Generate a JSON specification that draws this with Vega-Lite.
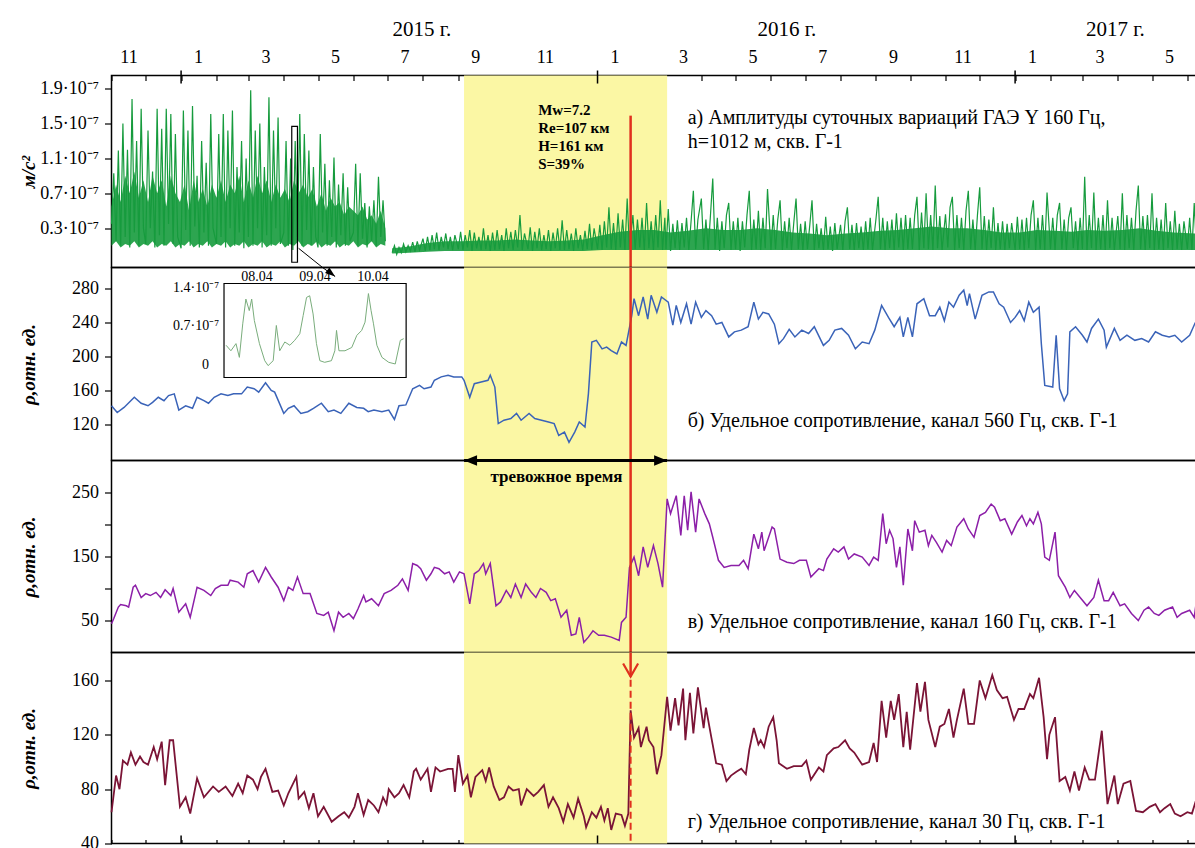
{
"$schema": "https://vega.github.io/schema/vega-lite/v6.json",
"background": "white",
"padding": {"left": 18.5, "top": 17.5, "right": 0, "bottom": 0},
"autosize": {"type": "pad"},
"spacing": 0,
"bounds": "flush",
"resolve": {"scale": {"x": "independent", "y": "independent"}},
"config": {
 "font": "Liberation Serif",
 "view": {"stroke": "black", "strokeWidth": 1.5},
 "axis": {"domain": false, "grid": false, "labelFont": "Liberation Serif", "labelFontSize": 18, "labelColor": "black", "tickColor": "black", "tickWidth": 1.2, "titleFont": "Liberation Serif", "titleFontSize": 19, "titleFontWeight": "bold", "titleFontStyle": "italic", "titleColor": "black", "labelFlush": false, "labelBound": false},
 "axisY": {"tickSize": 7, "labelPadding": 6, "minExtent": 70, "maxExtent": 70, "titlePadding": 3},
 "text": {"font": "Liberation Serif", "color": "black"}
},
"datasets": {
 "alarm": [{"t": "2015-09-06", "t2": "2016-03-02"}],
 "ev": [{"t": "2016-01-30"}],
 "years": [{"t": "2015-01-01"}, {"t": "2016-01-01"}, {"t": "2017-01-01"}],
 "ga1": [
{"t":"2014-11-01","lo":0.1,"hi":0.55},{"t":"2014-11-05","lo":0.15,"hi":0.8},{"t":"2014-11-09","lo":0.08,"hi":0.6},{"t":"2014-11-13","lo":0.12,"hi":0.9},{"t":"2014-11-17","lo":0.1,"hi":0.7},{"t":"2014-11-21","lo":0.15,"hi":0.95},{"t":"2014-11-25","lo":0.08,"hi":0.65},{"t":"2014-11-29","lo":0.12,"hi":0.85},
{"t":"2014-12-03","lo":0.1,"hi":0.6},{"t":"2014-12-07","lo":0.15,"hi":0.9},{"t":"2014-12-11","lo":0.08,"hi":0.7},{"t":"2014-12-15","lo":0.12,"hi":0.85},{"t":"2014-12-19","lo":0.1,"hi":0.55},{"t":"2014-12-23","lo":0.15,"hi":0.9},{"t":"2014-12-27","lo":0.08,"hi":0.7},{"t":"2014-12-31","lo":0.12,"hi":0.6},
{"t":"2015-01-04","lo":0.1,"hi":0.8},{"t":"2015-01-08","lo":0.15,"hi":0.5},{"t":"2015-01-12","lo":0.08,"hi":0.85},{"t":"2015-01-16","lo":0.12,"hi":0.6},{"t":"2015-01-20","lo":0.1,"hi":0.75},{"t":"2015-01-24","lo":0.15,"hi":0.55},{"t":"2015-01-28","lo":0.08,"hi":0.8},
{"t":"2015-02-01","lo":0.12,"hi":0.65},{"t":"2015-02-05","lo":0.1,"hi":0.85},{"t":"2015-02-09","lo":0.15,"hi":0.6},{"t":"2015-02-13","lo":0.08,"hi":0.8},{"t":"2015-02-17","lo":0.12,"hi":0.7},{"t":"2015-02-21","lo":0.1,"hi":0.9},{"t":"2015-02-25","lo":0.15,"hi":0.6},
{"t":"2015-03-01","lo":0.08,"hi":0.85},{"t":"2015-03-05","lo":0.12,"hi":0.65},{"t":"2015-03-09","lo":0.1,"hi":0.9},{"t":"2015-03-13","lo":0.15,"hi":0.7},{"t":"2015-03-17","lo":0.08,"hi":0.85},{"t":"2015-03-21","lo":0.12,"hi":0.6},{"t":"2015-03-25","lo":0.1,"hi":0.8},{"t":"2015-03-29","lo":0.15,"hi":0.65},
{"t":"2015-04-02","lo":0.08,"hi":0.75},{"t":"2015-04-06","lo":0.12,"hi":0.6},{"t":"2015-04-10","lo":0.1,"hi":0.85},{"t":"2015-04-14","lo":0.15,"hi":0.7},{"t":"2015-04-18","lo":0.08,"hi":0.8},{"t":"2015-04-22","lo":0.12,"hi":0.65},{"t":"2015-04-26","lo":0.1,"hi":0.75},{"t":"2015-04-30","lo":0.15,"hi":0.55},
{"t":"2015-05-04","lo":0.08,"hi":0.7},{"t":"2015-05-08","lo":0.12,"hi":0.5},{"t":"2015-05-12","lo":0.1,"hi":0.65},{"t":"2015-05-16","lo":0.15,"hi":0.55},{"t":"2015-05-20","lo":0.08,"hi":0.6},{"t":"2015-05-24","lo":0.12,"hi":0.45},{"t":"2015-05-28","lo":0.1,"hi":0.55},
{"t":"2015-06-01","lo":0.15,"hi":0.5},{"t":"2015-06-05","lo":0.08,"hi":0.45},{"t":"2015-06-09","lo":0.12,"hi":0.55},{"t":"2015-06-13","lo":0.1,"hi":0.4},{"t":"2015-06-17","lo":0.15,"hi":0.45},{"t":"2015-06-21","lo":0.08,"hi":0.35},{"t":"2015-06-25","lo":0.12,"hi":0.5},{"t":"2015-06-29","lo":0.1,"hi":0.3}
 ],
 "ga2": [
{"t":"2015-07-05","lo":0.01,"hi":0.07},{"t":"2015-07-20","lo":0.02,"hi":0.09},{"t":"2015-08-05","lo":0.03,"hi":0.13},{"t":"2015-08-20","lo":0.04,"hi":0.15},{"t":"2015-09-05","lo":0.04,"hi":0.15},{"t":"2015-09-20","lo":0.04,"hi":0.16},{"t":"2015-10-05","lo":0.04,"hi":0.16},{"t":"2015-10-20","lo":0.04,"hi":0.17},{"t":"2015-11-05","lo":0.04,"hi":0.16},{"t":"2015-11-20","lo":0.04,"hi":0.15},{"t":"2015-12-05","lo":0.04,"hi":0.16},{"t":"2015-12-20","lo":0.04,"hi":0.17},{"t":"2016-01-05","lo":0.05,"hi":0.22},{"t":"2016-01-20","lo":0.05,"hi":0.26},{"t":"2016-02-05","lo":0.05,"hi":0.28},{"t":"2016-02-20","lo":0.05,"hi":0.28},{"t":"2016-03-05","lo":0.05,"hi":0.25},{"t":"2016-03-20","lo":0.05,"hi":0.27},{"t":"2016-04-05","lo":0.05,"hi":0.3},{"t":"2016-04-20","lo":0.05,"hi":0.28},{"t":"2016-05-05","lo":0.05,"hi":0.28},{"t":"2016-05-20","lo":0.05,"hi":0.3},{"t":"2016-06-05","lo":0.05,"hi":0.28},{"t":"2016-06-20","lo":0.05,"hi":0.25},{"t":"2016-07-05","lo":0.05,"hi":0.24},{"t":"2016-07-20","lo":0.05,"hi":0.22},{"t":"2016-08-05","lo":0.05,"hi":0.24},{"t":"2016-08-20","lo":0.05,"hi":0.25},{"t":"2016-09-05","lo":0.05,"hi":0.27},{"t":"2016-09-20","lo":0.05,"hi":0.28},{"t":"2016-10-05","lo":0.05,"hi":0.3},{"t":"2016-10-20","lo":0.05,"hi":0.32},{"t":"2016-11-05","lo":0.05,"hi":0.3},{"t":"2016-11-20","lo":0.05,"hi":0.3},{"t":"2016-12-05","lo":0.05,"hi":0.28},{"t":"2016-12-20","lo":0.05,"hi":0.25},{"t":"2017-01-05","lo":0.05,"hi":0.25},{"t":"2017-01-20","lo":0.05,"hi":0.28},{"t":"2017-02-05","lo":0.05,"hi":0.27},{"t":"2017-02-20","lo":0.05,"hi":0.26},{"t":"2017-03-05","lo":0.05,"hi":0.28},{"t":"2017-03-20","lo":0.05,"hi":0.27},{"t":"2017-04-05","lo":0.05,"hi":0.28},{"t":"2017-04-20","lo":0.05,"hi":0.3},{"t":"2017-05-05","lo":0.05,"hi":0.27},{"t":"2017-05-20","lo":0.05,"hi":0.25},{"t":"2017-06-09","lo":0.05,"hi":0.24}
 ],
 "g1": [
{"t":"2014-11-01","v":0.35},{"t":"2014-11-03","v":0.93},{"t":"2014-11-05","v":0.15},{"t":"2014-11-07","v":1.19},{"t":"2014-11-09","v":0.1},{"t":"2014-11-11","v":1.5},{"t":"2014-11-13","v":0.2},{"t":"2014-11-15","v":1.2},{"t":"2014-11-17","v":0.08},{"t":"2014-11-19","v":1.78},{"t":"2014-11-21","v":0.25},{"t":"2014-11-23","v":1.3},{"t":"2014-11-25","v":0.1},{"t":"2014-11-27","v":1.67},{"t":"2014-11-29","v":0.3},
{"t":"2014-12-01","v":0.12},{"t":"2014-12-03","v":1.42},{"t":"2014-12-05","v":0.3},{"t":"2014-12-07","v":0.95},{"t":"2014-12-09","v":0.08},{"t":"2014-12-11","v":1.67},{"t":"2014-12-13","v":0.22},{"t":"2014-12-15","v":1.44},{"t":"2014-12-17","v":0.1},{"t":"2014-12-19","v":1.67},{"t":"2014-12-21","v":0.35},{"t":"2014-12-23","v":1.61},{"t":"2014-12-25","v":0.12},{"t":"2014-12-27","v":1.38},{"t":"2014-12-29","v":0.2},
{"t":"2015-01-01","v":0.07},{"t":"2015-01-03","v":1.65},{"t":"2015-01-05","v":0.28},{"t":"2015-01-07","v":1.42},{"t":"2015-01-09","v":0.1},{"t":"2015-01-11","v":1.7},{"t":"2015-01-13","v":0.32},{"t":"2015-01-15","v":0.9},{"t":"2015-01-17","v":0.08},{"t":"2015-01-19","v":1.3},{"t":"2015-01-21","v":0.25},{"t":"2015-01-23","v":1.05},{"t":"2015-01-25","v":0.1},{"t":"2015-01-27","v":1.61},{"t":"2015-01-29","v":0.3},
{"t":"2015-02-01","v":0.12},{"t":"2015-02-03","v":1.38},{"t":"2015-02-05","v":0.2},{"t":"2015-02-07","v":1.61},{"t":"2015-02-09","v":0.08},{"t":"2015-02-11","v":1.42},{"t":"2015-02-13","v":0.3},{"t":"2015-02-15","v":1.65},{"t":"2015-02-17","v":0.1},{"t":"2015-02-19","v":1.0},{"t":"2015-02-21","v":0.25},{"t":"2015-02-23","v":1.3},{"t":"2015-02-25","v":0.07},{"t":"2015-02-27","v":1.1},
{"t":"2015-03-01","v":0.2},{"t":"2015-03-03","v":1.88},{"t":"2015-03-05","v":0.1},{"t":"2015-03-07","v":1.42},{"t":"2015-03-09","v":0.3},{"t":"2015-03-11","v":1.5},{"t":"2015-03-13","v":0.08},{"t":"2015-03-15","v":1.0},{"t":"2015-03-17","v":0.22},{"t":"2015-03-19","v":1.8},{"t":"2015-03-21","v":0.1},{"t":"2015-03-23","v":1.42},{"t":"2015-03-25","v":0.3},{"t":"2015-03-27","v":1.57},{"t":"2015-03-29","v":0.12},
{"t":"2015-04-01","v":0.25},{"t":"2015-04-03","v":1.3},{"t":"2015-04-05","v":0.1},{"t":"2015-04-07","v":1.1},{"t":"2015-04-09","v":0.05},{"t":"2015-04-11","v":1.3},{"t":"2015-04-13","v":0.2},{"t":"2015-04-15","v":1.61},{"t":"2015-04-17","v":0.1},{"t":"2015-04-19","v":1.38},{"t":"2015-04-21","v":0.28},{"t":"2015-04-23","v":1.19},{"t":"2015-04-25","v":0.1},{"t":"2015-04-27","v":1.0},{"t":"2015-04-29","v":0.2},
{"t":"2015-05-01","v":0.08},{"t":"2015-05-03","v":1.38},{"t":"2015-05-05","v":0.25},{"t":"2015-05-07","v":1.04},{"t":"2015-05-09","v":0.1},{"t":"2015-05-11","v":0.85},{"t":"2015-05-13","v":0.2},{"t":"2015-05-15","v":1.11},{"t":"2015-05-17","v":0.08},{"t":"2015-05-19","v":0.8},{"t":"2015-05-21","v":0.22},{"t":"2015-05-23","v":0.93},{"t":"2015-05-25","v":0.1},{"t":"2015-05-27","v":0.77},{"t":"2015-05-29","v":0.15},
{"t":"2015-06-01","v":0.25},{"t":"2015-06-03","v":1.04},{"t":"2015-06-05","v":0.1},{"t":"2015-06-07","v":0.93},{"t":"2015-06-09","v":0.18},{"t":"2015-06-11","v":0.59},{"t":"2015-06-13","v":0.08},{"t":"2015-06-15","v":0.55},{"t":"2015-06-17","v":0.15},{"t":"2015-06-19","v":0.62},{"t":"2015-06-21","v":0.1},{"t":"2015-06-23","v":0.89},{"t":"2015-06-25","v":0.2},{"t":"2015-06-27","v":0.62},{"t":"2015-06-29","v":0.15}
 ],
 "g2": [
{"t":"2015-07-05","v":0.02},{"t":"2015-07-07","v":0.1},{"t":"2015-07-09","v":0.0},{"t":"2015-07-11","v":0.08},{"t":"2015-07-13","v":0.02},{"t":"2015-07-15","v":0.12},{"t":"2015-07-17","v":0.03},{"t":"2015-07-19","v":0.1},{"t":"2015-07-21","v":0.04},{"t":"2015-07-23","v":0.14},{"t":"2015-07-25","v":0.03},{"t":"2015-07-27","v":0.15},{"t":"2015-07-29","v":0.05},
{"t":"2015-08-01","v":0.18},{"t":"2015-08-03","v":0.04},{"t":"2015-08-05","v":0.2},{"t":"2015-08-07","v":0.05},{"t":"2015-08-09","v":0.22},{"t":"2015-08-11","v":0.06},{"t":"2015-08-13","v":0.25},{"t":"2015-08-15","v":0.05},{"t":"2015-08-17","v":0.2},{"t":"2015-08-19","v":0.08},{"t":"2015-08-21","v":0.24},{"t":"2015-08-23","v":0.06},{"t":"2015-08-25","v":0.2},{"t":"2015-08-27","v":0.05},{"t":"2015-08-29","v":0.22},
{"t":"2015-09-01","v":0.06},{"t":"2015-09-03","v":0.26},{"t":"2015-09-05","v":0.05},{"t":"2015-09-07","v":0.22},{"t":"2015-09-09","v":0.08},{"t":"2015-09-11","v":0.28},{"t":"2015-09-13","v":0.04},{"t":"2015-09-15","v":0.25},{"t":"2015-09-17","v":0.07},{"t":"2015-09-19","v":0.2},{"t":"2015-09-21","v":0.05},{"t":"2015-09-23","v":0.3},{"t":"2015-09-25","v":0.06},{"t":"2015-09-27","v":0.22},{"t":"2015-09-29","v":0.04},
{"t":"2015-10-01","v":0.25},{"t":"2015-10-03","v":0.05},{"t":"2015-10-05","v":0.28},{"t":"2015-10-07","v":0.06},{"t":"2015-10-09","v":0.22},{"t":"2015-10-11","v":0.04},{"t":"2015-10-13","v":0.3},{"t":"2015-10-15","v":0.07},{"t":"2015-10-17","v":0.26},{"t":"2015-10-19","v":0.05},{"t":"2015-10-21","v":0.28},{"t":"2015-10-23","v":0.08},{"t":"2015-10-25","v":0.45},{"t":"2015-10-27","v":0.05},{"t":"2015-10-29","v":0.24},
{"t":"2015-11-01","v":0.06},{"t":"2015-11-03","v":0.31},{"t":"2015-11-05","v":0.04},{"t":"2015-11-07","v":0.26},{"t":"2015-11-09","v":0.07},{"t":"2015-11-11","v":0.3},{"t":"2015-11-13","v":0.05},{"t":"2015-11-15","v":0.22},{"t":"2015-11-17","v":0.06},{"t":"2015-11-19","v":0.28},{"t":"2015-11-21","v":0.04},{"t":"2015-11-23","v":0.25},{"t":"2015-11-25","v":0.07},{"t":"2015-11-27","v":0.3},{"t":"2015-11-29","v":0.05},
{"t":"2015-12-01","v":0.39},{"t":"2015-12-03","v":0.05},{"t":"2015-12-05","v":0.28},{"t":"2015-12-07","v":0.06},{"t":"2015-12-09","v":0.24},{"t":"2015-12-11","v":0.04},{"t":"2015-12-13","v":0.3},{"t":"2015-12-15","v":0.07},{"t":"2015-12-17","v":0.22},{"t":"2015-12-19","v":0.05},{"t":"2015-12-21","v":0.27},{"t":"2015-12-23","v":0.06},{"t":"2015-12-25","v":0.35},{"t":"2015-12-27","v":0.05},{"t":"2015-12-29","v":0.3},
{"t":"2016-01-01","v":0.06},{"t":"2016-01-03","v":0.34},{"t":"2016-01-05","v":0.05},{"t":"2016-01-07","v":0.38},{"t":"2016-01-09","v":0.08},{"t":"2016-01-11","v":0.54},{"t":"2016-01-13","v":0.06},{"t":"2016-01-15","v":0.36},{"t":"2016-01-17","v":0.05},{"t":"2016-01-19","v":0.47},{"t":"2016-01-21","v":0.08},{"t":"2016-01-23","v":0.4},{"t":"2016-01-25","v":0.05},{"t":"2016-01-27","v":0.64},{"t":"2016-01-29","v":0.06},
{"t":"2016-02-01","v":0.45},{"t":"2016-02-03","v":0.06},{"t":"2016-02-05","v":0.4},{"t":"2016-02-07","v":0.08},{"t":"2016-02-09","v":0.42},{"t":"2016-02-11","v":0.05},{"t":"2016-02-13","v":0.59},{"t":"2016-02-15","v":0.07},{"t":"2016-02-17","v":0.38},{"t":"2016-02-19","v":0.05},{"t":"2016-02-21","v":0.45},{"t":"2016-02-23","v":0.08},{"t":"2016-02-25","v":0.62},{"t":"2016-02-27","v":0.05},{"t":"2016-02-29","v":0.42},
{"t":"2016-03-01","v":0.06},{"t":"2016-03-03","v":0.52},{"t":"2016-03-05","v":0.04},{"t":"2016-03-07","v":0.35},{"t":"2016-03-09","v":0.07},{"t":"2016-03-11","v":0.39},{"t":"2016-03-13","v":0.05},{"t":"2016-03-15","v":0.36},{"t":"2016-03-17","v":0.08},{"t":"2016-03-19","v":0.42},{"t":"2016-03-21","v":0.05},{"t":"2016-03-23","v":0.38},{"t":"2016-03-25","v":0.73},{"t":"2016-03-27","v":0.06},{"t":"2016-03-29","v":0.4},
{"t":"2016-04-01","v":0.64},{"t":"2016-04-03","v":0.06},{"t":"2016-04-05","v":0.4},{"t":"2016-04-07","v":0.05},{"t":"2016-04-09","v":0.45},{"t":"2016-04-11","v":0.87},{"t":"2016-04-13","v":0.06},{"t":"2016-04-15","v":0.42},{"t":"2016-04-17","v":0.04},{"t":"2016-04-19","v":0.38},{"t":"2016-04-21","v":0.07},{"t":"2016-04-23","v":0.45},{"t":"2016-04-25","v":0.59},{"t":"2016-04-27","v":0.05},{"t":"2016-04-29","v":0.38},
{"t":"2016-05-01","v":0.06},{"t":"2016-05-03","v":0.42},{"t":"2016-05-05","v":0.04},{"t":"2016-05-07","v":0.38},{"t":"2016-05-09","v":0.08},{"t":"2016-05-11","v":0.45},{"t":"2016-05-13","v":0.73},{"t":"2016-05-15","v":0.05},{"t":"2016-05-17","v":0.4},{"t":"2016-05-19","v":0.06},{"t":"2016-05-21","v":0.5},{"t":"2016-05-23","v":0.05},{"t":"2016-05-25","v":0.42},{"t":"2016-05-27","v":0.07},{"t":"2016-05-29","v":0.75},
{"t":"2016-06-01","v":0.05},{"t":"2016-06-03","v":0.45},{"t":"2016-06-05","v":0.06},{"t":"2016-06-07","v":0.4},{"t":"2016-06-09","v":0.62},{"t":"2016-06-11","v":0.05},{"t":"2016-06-13","v":0.38},{"t":"2016-06-15","v":0.07},{"t":"2016-06-17","v":0.42},{"t":"2016-06-19","v":0.05},{"t":"2016-06-21","v":0.36},{"t":"2016-06-23","v":0.64},{"t":"2016-06-25","v":0.06},{"t":"2016-06-27","v":0.35},{"t":"2016-06-29","v":0.05},
{"t":"2016-07-01","v":0.38},{"t":"2016-07-03","v":0.06},{"t":"2016-07-05","v":0.33},{"t":"2016-07-07","v":0.62},{"t":"2016-07-09","v":0.05},{"t":"2016-07-11","v":0.35},{"t":"2016-07-13","v":0.07},{"t":"2016-07-15","v":0.3},{"t":"2016-07-17","v":0.05},{"t":"2016-07-19","v":0.43},{"t":"2016-07-21","v":0.06},{"t":"2016-07-23","v":0.32},{"t":"2016-07-25","v":0.04},{"t":"2016-07-27","v":0.36},{"t":"2016-07-29","v":0.06},
{"t":"2016-08-01","v":0.34},{"t":"2016-08-03","v":0.05},{"t":"2016-08-05","v":0.38},{"t":"2016-08-07","v":0.54},{"t":"2016-08-09","v":0.06},{"t":"2016-08-11","v":0.34},{"t":"2016-08-13","v":0.05},{"t":"2016-08-15","v":0.36},{"t":"2016-08-17","v":0.07},{"t":"2016-08-19","v":0.32},{"t":"2016-08-21","v":0.05},{"t":"2016-08-23","v":0.38},{"t":"2016-08-25","v":0.06},{"t":"2016-08-27","v":0.42},{"t":"2016-08-29","v":0.05},
{"t":"2016-09-01","v":0.4},{"t":"2016-09-03","v":0.66},{"t":"2016-09-05","v":0.06},{"t":"2016-09-07","v":0.42},{"t":"2016-09-09","v":0.05},{"t":"2016-09-11","v":0.38},{"t":"2016-09-13","v":0.07},{"t":"2016-09-15","v":0.4},{"t":"2016-09-17","v":0.05},{"t":"2016-09-19","v":0.47},{"t":"2016-09-21","v":0.08},{"t":"2016-09-23","v":0.42},{"t":"2016-09-25","v":0.05},{"t":"2016-09-27","v":0.45},{"t":"2016-09-29","v":0.06},
{"t":"2016-10-01","v":0.42},{"t":"2016-10-03","v":0.06},{"t":"2016-10-05","v":0.45},{"t":"2016-10-07","v":0.66},{"t":"2016-10-09","v":0.05},{"t":"2016-10-11","v":0.48},{"t":"2016-10-13","v":0.07},{"t":"2016-10-15","v":0.7},{"t":"2016-10-17","v":0.06},{"t":"2016-10-19","v":0.45},{"t":"2016-10-21","v":0.05},{"t":"2016-10-23","v":0.79},{"t":"2016-10-25","v":0.07},{"t":"2016-10-27","v":0.44},{"t":"2016-10-29","v":0.05},
{"t":"2016-11-01","v":0.46},{"t":"2016-11-03","v":0.08},{"t":"2016-11-05","v":0.54},{"t":"2016-11-07","v":0.66},{"t":"2016-11-09","v":0.05},{"t":"2016-11-11","v":0.45},{"t":"2016-11-13","v":0.07},{"t":"2016-11-15","v":0.42},{"t":"2016-11-17","v":0.05},{"t":"2016-11-19","v":0.5},{"t":"2016-11-21","v":0.73},{"t":"2016-11-23","v":0.06},{"t":"2016-11-25","v":0.4},{"t":"2016-11-27","v":0.05},{"t":"2016-11-29","v":0.45},
{"t":"2016-12-01","v":0.77},{"t":"2016-12-03","v":0.06},{"t":"2016-12-05","v":0.44},{"t":"2016-12-07","v":0.05},{"t":"2016-12-09","v":0.4},{"t":"2016-12-11","v":0.07},{"t":"2016-12-13","v":0.54},{"t":"2016-12-15","v":0.05},{"t":"2016-12-17","v":0.36},{"t":"2016-12-19","v":0.06},{"t":"2016-12-21","v":0.38},{"t":"2016-12-23","v":0.05},{"t":"2016-12-25","v":0.35},{"t":"2016-12-27","v":0.07},{"t":"2016-12-29","v":0.36},
{"t":"2017-01-01","v":0.05},{"t":"2017-01-03","v":0.43},{"t":"2017-01-05","v":0.06},{"t":"2017-01-07","v":0.4},{"t":"2017-01-09","v":0.05},{"t":"2017-01-11","v":0.42},{"t":"2017-01-13","v":0.07},{"t":"2017-01-15","v":0.45},{"t":"2017-01-17","v":0.62},{"t":"2017-01-19","v":0.05},{"t":"2017-01-21","v":0.42},{"t":"2017-01-23","v":0.06},{"t":"2017-01-25","v":0.45},{"t":"2017-01-27","v":0.05},{"t":"2017-01-29","v":0.71},
{"t":"2017-02-01","v":0.06},{"t":"2017-02-03","v":0.42},{"t":"2017-02-05","v":0.05},{"t":"2017-02-07","v":0.45},{"t":"2017-02-09","v":0.59},{"t":"2017-02-11","v":0.06},{"t":"2017-02-13","v":0.4},{"t":"2017-02-15","v":0.05},{"t":"2017-02-17","v":0.42},{"t":"2017-02-19","v":0.54},{"t":"2017-02-21","v":0.07},{"t":"2017-02-23","v":0.38},{"t":"2017-02-25","v":0.05},{"t":"2017-02-27","v":0.42},
{"t":"2017-03-01","v":0.06},{"t":"2017-03-03","v":0.89},{"t":"2017-03-05","v":0.05},{"t":"2017-03-07","v":0.45},{"t":"2017-03-09","v":0.07},{"t":"2017-03-11","v":0.71},{"t":"2017-03-13","v":0.05},{"t":"2017-03-15","v":0.42},{"t":"2017-03-17","v":0.06},{"t":"2017-03-19","v":0.45},{"t":"2017-03-21","v":0.05},{"t":"2017-03-23","v":0.62},{"t":"2017-03-25","v":0.07},{"t":"2017-03-27","v":0.42},{"t":"2017-03-29","v":0.05},
{"t":"2017-04-01","v":0.44},{"t":"2017-04-03","v":0.06},{"t":"2017-04-05","v":0.7},{"t":"2017-04-07","v":0.05},{"t":"2017-04-09","v":0.45},{"t":"2017-04-11","v":0.07},{"t":"2017-04-13","v":0.42},{"t":"2017-04-15","v":0.05},{"t":"2017-04-17","v":0.5},{"t":"2017-04-19","v":0.79},{"t":"2017-04-21","v":0.06},{"t":"2017-04-23","v":0.44},{"t":"2017-04-25","v":0.05},{"t":"2017-04-27","v":0.45},{"t":"2017-04-29","v":0.07},
{"t":"2017-05-01","v":0.7},{"t":"2017-05-03","v":0.05},{"t":"2017-05-05","v":0.42},{"t":"2017-05-07","v":0.06},{"t":"2017-05-09","v":0.4},{"t":"2017-05-11","v":0.05},{"t":"2017-05-13","v":0.59},{"t":"2017-05-15","v":0.07},{"t":"2017-05-17","v":0.38},{"t":"2017-05-19","v":0.05},{"t":"2017-05-21","v":0.5},{"t":"2017-05-23","v":0.06},{"t":"2017-05-25","v":0.35},{"t":"2017-05-27","v":0.05},{"t":"2017-05-29","v":0.38},
{"t":"2017-06-01","v":0.06},{"t":"2017-06-03","v":0.42},{"t":"2017-06-05","v":0.05},{"t":"2017-06-07","v":0.59},{"t":"2017-06-09","v":0.06}
 ],
 "b": [
{"t":"2014-11-01","v":142},{"t":"2014-11-06","v":134},{"t":"2014-11-12","v":140},{"t":"2014-11-21","v":152},{"t":"2014-11-27","v":145},{"t":"2014-12-03","v":142},{"t":"2014-12-07","v":146},{"t":"2014-12-12","v":152},{"t":"2014-12-17","v":148},{"t":"2014-12-21","v":154},{"t":"2014-12-26","v":156},{"t":"2014-12-30","v":137},{"t":"2015-01-05","v":142},{"t":"2015-01-11","v":139},{"t":"2015-01-15","v":152},{"t":"2015-01-21","v":148},{"t":"2015-01-25","v":145},{"t":"2015-01-30","v":152},{"t":"2015-02-05","v":156},{"t":"2015-02-11","v":154},{"t":"2015-02-16","v":156},{"t":"2015-02-23","v":156},{"t":"2015-02-28","v":164},{"t":"2015-03-06","v":162},{"t":"2015-03-10","v":158},{"t":"2015-03-16","v":169},{"t":"2015-03-21","v":160},{"t":"2015-03-24","v":158},{"t":"2015-04-01","v":133},{"t":"2015-04-05","v":139},{"t":"2015-04-10","v":142},{"t":"2015-04-16","v":133},{"t":"2015-04-22","v":135},{"t":"2015-04-27","v":139},{"t":"2015-05-04","v":145},{"t":"2015-05-10","v":135},{"t":"2015-05-15","v":137},{"t":"2015-05-21","v":133},{"t":"2015-05-28","v":145},{"t":"2015-06-04","v":140},{"t":"2015-06-10","v":139},{"t":"2015-06-14","v":135},{"t":"2015-06-19","v":137},{"t":"2015-06-26","v":135},{"t":"2015-07-02","v":137},{"t":"2015-07-07","v":126},{"t":"2015-07-11","v":142},{"t":"2015-07-17","v":143},{"t":"2015-07-23","v":162},{"t":"2015-07-29","v":166},{"t":"2015-08-02","v":162},{"t":"2015-08-08","v":164},{"t":"2015-08-11","v":172},{"t":"2015-08-17","v":176},{"t":"2015-08-23","v":178},{"t":"2015-08-28","v":176},{"t":"2015-09-04","v":176},{"t":"2015-09-06","v":172},{"t":"2015-09-11","v":152},{"t":"2015-09-15","v":168},{"t":"2015-09-21","v":170},{"t":"2015-09-27","v":172},{"t":"2015-09-29","v":178},{"t":"2015-10-03","v":164},{"t":"2015-10-06","v":121},{"t":"2015-10-11","v":125},{"t":"2015-10-17","v":127},{"t":"2015-10-22","v":133},{"t":"2015-10-26","v":125},{"t":"2015-11-02","v":133},{"t":"2015-11-07","v":127},{"t":"2015-11-13","v":125},{"t":"2015-11-19","v":123},{"t":"2015-11-24","v":121},{"t":"2015-11-28","v":107},{"t":"2015-12-03","v":111},{"t":"2015-12-07","v":99},{"t":"2015-12-12","v":111},{"t":"2015-12-16","v":123},{"t":"2015-12-21","v":117},{"t":"2015-12-24","v":156},{"t":"2015-12-27","v":217},{"t":"2015-12-31","v":219},{"t":"2016-01-05","v":209},{"t":"2016-01-09","v":211},{"t":"2016-01-13","v":207},{"t":"2016-01-18","v":203},{"t":"2016-01-22","v":217},{"t":"2016-01-26","v":213},{"t":"2016-01-31","v":248},{"t":"2016-02-02","v":268},{"t":"2016-02-06","v":248},{"t":"2016-02-10","v":270},{"t":"2016-02-14","v":244},{"t":"2016-02-17","v":272},{"t":"2016-02-22","v":252},{"t":"2016-02-26","v":270},{"t":"2016-03-03","v":264},{"t":"2016-03-07","v":237},{"t":"2016-03-10","v":260},{"t":"2016-03-14","v":240},{"t":"2016-03-19","v":262},{"t":"2016-03-23","v":238},{"t":"2016-03-27","v":264},{"t":"2016-04-01","v":246},{"t":"2016-04-05","v":254},{"t":"2016-04-10","v":248},{"t":"2016-04-14","v":238},{"t":"2016-04-19","v":240},{"t":"2016-04-25","v":223},{"t":"2016-04-30","v":229},{"t":"2016-05-06","v":231},{"t":"2016-05-12","v":235},{"t":"2016-05-17","v":264},{"t":"2016-05-21","v":244},{"t":"2016-05-25","v":252},{"t":"2016-05-30","v":250},{"t":"2016-06-04","v":238},{"t":"2016-06-08","v":215},{"t":"2016-06-12","v":221},{"t":"2016-06-17","v":232},{"t":"2016-06-22","v":223},{"t":"2016-06-28","v":231},{"t":"2016-07-04","v":227},{"t":"2016-07-09","v":235},{"t":"2016-07-17","v":213},{"t":"2016-07-22","v":219},{"t":"2016-07-27","v":231},{"t":"2016-08-02","v":233},{"t":"2016-08-08","v":225},{"t":"2016-08-14","v":209},{"t":"2016-08-20","v":217},{"t":"2016-08-26","v":215},{"t":"2016-08-31","v":231},{"t":"2016-09-06","v":260},{"t":"2016-09-12","v":246},{"t":"2016-09-17","v":235},{"t":"2016-09-22","v":246},{"t":"2016-09-25","v":223},{"t":"2016-09-29","v":246},{"t":"2016-10-03","v":223},{"t":"2016-10-07","v":262},{"t":"2016-10-13","v":268},{"t":"2016-10-18","v":248},{"t":"2016-10-23","v":248},{"t":"2016-10-27","v":258},{"t":"2016-10-31","v":242},{"t":"2016-11-04","v":264},{"t":"2016-11-08","v":258},{"t":"2016-11-13","v":272},{"t":"2016-11-17","v":278},{"t":"2016-11-20","v":260},{"t":"2016-11-22","v":274},{"t":"2016-11-27","v":244},{"t":"2016-12-03","v":272},{"t":"2016-12-09","v":276},{"t":"2016-12-13","v":276},{"t":"2016-12-18","v":262},{"t":"2016-12-22","v":258},{"t":"2016-12-28","v":240},{"t":"2017-01-01","v":246},{"t":"2017-01-05","v":254},{"t":"2017-01-09","v":242},{"t":"2017-01-13","v":264},{"t":"2017-01-17","v":252},{"t":"2017-01-22","v":258},{"t":"2017-01-24","v":215},{"t":"2017-01-27","v":166},{"t":"2017-02-03","v":164},{"t":"2017-02-06","v":225},{"t":"2017-02-09","v":162},{"t":"2017-02-13","v":148},{"t":"2017-02-16","v":156},{"t":"2017-02-18","v":229},{"t":"2017-02-23","v":235},{"t":"2017-03-01","v":225},{"t":"2017-03-05","v":217},{"t":"2017-03-09","v":233},{"t":"2017-03-15","v":244},{"t":"2017-03-20","v":231},{"t":"2017-03-22","v":211},{"t":"2017-03-29","v":233},{"t":"2017-04-03","v":219},{"t":"2017-04-09","v":225},{"t":"2017-04-16","v":219},{"t":"2017-04-22","v":221},{"t":"2017-04-28","v":217},{"t":"2017-05-04","v":229},{"t":"2017-05-10","v":225},{"t":"2017-05-16","v":223},{"t":"2017-05-21","v":225},{"t":"2017-05-27","v":217},{"t":"2017-06-03","v":225},{"t":"2017-06-08","v":240}
 ],
 "c": [
{"t":"2014-11-01","v":45},{"t":"2014-11-03","v":53},{"t":"2014-11-07","v":71},{"t":"2014-11-09","v":75},{"t":"2014-11-14","v":73},{"t":"2014-11-16","v":71},{"t":"2014-11-20","v":102},{"t":"2014-11-22","v":105},{"t":"2014-11-27","v":86},{"t":"2014-12-01","v":92},{"t":"2014-12-05","v":89},{"t":"2014-12-10","v":94},{"t":"2014-12-14","v":86},{"t":"2014-12-18","v":98},{"t":"2014-12-23","v":89},{"t":"2014-12-25","v":100},{"t":"2014-12-30","v":63},{"t":"2015-01-05","v":76},{"t":"2015-01-09","v":55},{"t":"2015-01-15","v":102},{"t":"2015-01-21","v":97},{"t":"2015-01-27","v":89},{"t":"2015-01-31","v":100},{"t":"2015-02-05","v":105},{"t":"2015-02-11","v":105},{"t":"2015-02-13","v":113},{"t":"2015-02-20","v":110},{"t":"2015-02-25","v":102},{"t":"2015-02-28","v":123},{"t":"2015-03-05","v":128},{"t":"2015-03-10","v":110},{"t":"2015-03-16","v":133},{"t":"2015-03-21","v":118},{"t":"2015-03-27","v":102},{"t":"2015-04-01","v":81},{"t":"2015-04-05","v":102},{"t":"2015-04-09","v":97},{"t":"2015-04-13","v":118},{"t":"2015-04-18","v":92},{"t":"2015-04-24","v":92},{"t":"2015-04-30","v":61},{"t":"2015-05-06","v":58},{"t":"2015-05-10","v":63},{"t":"2015-05-15","v":34},{"t":"2015-05-19","v":63},{"t":"2015-05-23","v":55},{"t":"2015-05-28","v":61},{"t":"2015-06-01","v":53},{"t":"2015-06-05","v":68},{"t":"2015-06-10","v":89},{"t":"2015-06-12","v":79},{"t":"2015-06-17","v":84},{"t":"2015-06-23","v":73},{"t":"2015-06-28","v":92},{"t":"2015-07-04","v":97},{"t":"2015-07-10","v":105},{"t":"2015-07-14","v":115},{"t":"2015-07-19","v":97},{"t":"2015-07-23","v":139},{"t":"2015-07-27","v":136},{"t":"2015-07-30","v":131},{"t":"2015-08-04","v":113},{"t":"2015-08-08","v":123},{"t":"2015-08-11","v":133},{"t":"2015-08-15","v":131},{"t":"2015-08-20","v":123},{"t":"2015-08-24","v":126},{"t":"2015-08-28","v":110},{"t":"2015-09-02","v":126},{"t":"2015-09-06","v":123},{"t":"2015-09-11","v":76},{"t":"2015-09-15","v":123},{"t":"2015-09-19","v":128},{"t":"2015-09-23","v":139},{"t":"2015-09-25","v":123},{"t":"2015-09-29","v":139},{"t":"2015-10-04","v":73},{"t":"2015-10-08","v":79},{"t":"2015-10-13","v":97},{"t":"2015-10-17","v":86},{"t":"2015-10-21","v":107},{"t":"2015-10-26","v":86},{"t":"2015-10-30","v":107},{"t":"2015-11-04","v":94},{"t":"2015-11-08","v":86},{"t":"2015-11-12","v":100},{"t":"2015-11-17","v":94},{"t":"2015-11-21","v":81},{"t":"2015-11-25","v":84},{"t":"2015-11-30","v":55},{"t":"2015-12-05","v":66},{"t":"2015-12-09","v":27},{"t":"2015-12-13","v":29},{"t":"2015-12-16","v":55},{"t":"2015-12-20","v":16},{"t":"2015-12-24","v":24},{"t":"2015-12-28","v":34},{"t":"2016-01-02","v":27},{"t":"2016-01-07","v":27},{"t":"2016-01-13","v":24},{"t":"2016-01-20","v":19},{"t":"2016-01-22","v":47},{"t":"2016-01-26","v":55},{"t":"2016-01-29","v":133},{"t":"2016-02-02","v":149},{"t":"2016-02-06","v":120},{"t":"2016-02-10","v":165},{"t":"2016-02-14","v":133},{"t":"2016-02-19","v":167},{"t":"2016-02-23","v":139},{"t":"2016-02-27","v":102},{"t":"2016-03-02","v":240},{"t":"2016-03-05","v":217},{"t":"2016-03-10","v":245},{"t":"2016-03-14","v":183},{"t":"2016-03-17","v":245},{"t":"2016-03-20","v":191},{"t":"2016-03-23","v":251},{"t":"2016-03-27","v":188},{"t":"2016-03-30","v":240},{"t":"2016-04-04","v":217},{"t":"2016-04-08","v":201},{"t":"2016-04-11","v":180},{"t":"2016-04-16","v":144},{"t":"2016-04-21","v":133},{"t":"2016-04-27","v":136},{"t":"2016-05-04","v":136},{"t":"2016-05-08","v":144},{"t":"2016-05-12","v":131},{"t":"2016-05-17","v":185},{"t":"2016-05-21","v":162},{"t":"2016-05-24","v":188},{"t":"2016-05-26","v":159},{"t":"2016-06-02","v":196},{"t":"2016-06-04","v":193},{"t":"2016-06-09","v":146},{"t":"2016-06-15","v":141},{"t":"2016-06-21","v":139},{"t":"2016-06-26","v":144},{"t":"2016-07-02","v":144},{"t":"2016-07-06","v":118},{"t":"2016-07-13","v":131},{"t":"2016-07-17","v":128},{"t":"2016-07-20","v":146},{"t":"2016-07-26","v":162},{"t":"2016-07-30","v":157},{"t":"2016-08-04","v":165},{"t":"2016-08-08","v":146},{"t":"2016-08-13","v":154},{"t":"2016-08-20","v":149},{"t":"2016-08-26","v":136},{"t":"2016-08-30","v":149},{"t":"2016-09-03","v":144},{"t":"2016-09-07","v":217},{"t":"2016-09-10","v":170},{"t":"2016-09-13","v":191},{"t":"2016-09-16","v":178},{"t":"2016-09-19","v":133},{"t":"2016-09-22","v":165},{"t":"2016-09-25","v":105},{"t":"2016-09-29","v":193},{"t":"2016-10-03","v":159},{"t":"2016-10-05","v":206},{"t":"2016-10-09","v":188},{"t":"2016-10-14","v":191},{"t":"2016-10-17","v":167},{"t":"2016-10-20","v":183},{"t":"2016-10-24","v":172},{"t":"2016-10-29","v":157},{"t":"2016-11-02","v":175},{"t":"2016-11-06","v":167},{"t":"2016-11-11","v":196},{"t":"2016-11-17","v":209},{"t":"2016-11-21","v":193},{"t":"2016-11-26","v":180},{"t":"2016-12-01","v":214},{"t":"2016-12-06","v":219},{"t":"2016-12-11","v":232},{"t":"2016-12-14","v":227},{"t":"2016-12-19","v":206},{"t":"2016-12-23","v":209},{"t":"2016-12-29","v":185},{"t":"2017-01-03","v":204},{"t":"2017-01-07","v":214},{"t":"2017-01-11","v":198},{"t":"2017-01-14","v":209},{"t":"2017-01-17","v":201},{"t":"2017-01-21","v":219},{"t":"2017-01-24","v":201},{"t":"2017-01-27","v":149},{"t":"2017-01-31","v":144},{"t":"2017-02-05","v":188},{"t":"2017-02-08","v":120},{"t":"2017-02-14","v":102},{"t":"2017-02-18","v":86},{"t":"2017-02-22","v":97},{"t":"2017-02-27","v":86},{"t":"2017-03-05","v":73},{"t":"2017-03-11","v":86},{"t":"2017-03-15","v":113},{"t":"2017-03-20","v":81},{"t":"2017-03-24","v":81},{"t":"2017-03-28","v":94},{"t":"2017-04-03","v":73},{"t":"2017-04-07","v":76},{"t":"2017-04-13","v":61},{"t":"2017-04-19","v":50},{"t":"2017-04-24","v":66},{"t":"2017-04-28","v":71},{"t":"2017-05-03","v":61},{"t":"2017-05-07","v":58},{"t":"2017-05-12","v":66},{"t":"2017-05-19","v":71},{"t":"2017-05-23","v":55},{"t":"2017-05-27","v":61},{"t":"2017-06-03","v":66},{"t":"2017-06-07","v":55},{"t":"2017-06-09","v":81}
 ],
 "d": [
{"t":"2014-11-01","v":63},{"t":"2014-11-05","v":90},{"t":"2014-11-08","v":80},{"t":"2014-11-11","v":101},{"t":"2014-11-15","v":98},{"t":"2014-11-18","v":107},{"t":"2014-11-22","v":98},{"t":"2014-11-26","v":104},{"t":"2014-11-29","v":100},{"t":"2014-12-03","v":98},{"t":"2014-12-08","v":111},{"t":"2014-12-11","v":102},{"t":"2014-12-15","v":115},{"t":"2014-12-18","v":83},{"t":"2014-12-22","v":116},{"t":"2014-12-25","v":116},{"t":"2014-12-31","v":67},{"t":"2015-01-05","v":74},{"t":"2015-01-09","v":62},{"t":"2015-01-15","v":88},{"t":"2015-01-21","v":74},{"t":"2015-01-29","v":82},{"t":"2015-02-03","v":78},{"t":"2015-02-09","v":82},{"t":"2015-02-15","v":75},{"t":"2015-02-20","v":84},{"t":"2015-02-24","v":77},{"t":"2015-02-28","v":90},{"t":"2015-03-05","v":87},{"t":"2015-03-09","v":80},{"t":"2015-03-12","v":89},{"t":"2015-03-16","v":95},{"t":"2015-03-22","v":78},{"t":"2015-03-27","v":79},{"t":"2015-04-01","v":68},{"t":"2015-04-05","v":77},{"t":"2015-04-12","v":89},{"t":"2015-04-14","v":73},{"t":"2015-04-19","v":78},{"t":"2015-04-23","v":66},{"t":"2015-04-27","v":77},{"t":"2015-05-01","v":60},{"t":"2015-05-06","v":67},{"t":"2015-05-13","v":56},{"t":"2015-05-19","v":60},{"t":"2015-05-24","v":63},{"t":"2015-05-28","v":59},{"t":"2015-06-02","v":67},{"t":"2015-06-05","v":77},{"t":"2015-06-10","v":61},{"t":"2015-06-14","v":72},{"t":"2015-06-19","v":68},{"t":"2015-06-23","v":63},{"t":"2015-06-27","v":74},{"t":"2015-06-30","v":69},{"t":"2015-07-02","v":80},{"t":"2015-07-07","v":74},{"t":"2015-07-11","v":77},{"t":"2015-07-15","v":83},{"t":"2015-07-20","v":74},{"t":"2015-07-24","v":93},{"t":"2015-07-26","v":95},{"t":"2015-07-30","v":87},{"t":"2015-08-05","v":95},{"t":"2015-08-08","v":78},{"t":"2015-08-12","v":96},{"t":"2015-08-16","v":93},{"t":"2015-08-23","v":95},{"t":"2015-08-27","v":95},{"t":"2015-08-29","v":78},{"t":"2015-09-01","v":105},{"t":"2015-09-05","v":84},{"t":"2015-09-09","v":90},{"t":"2015-09-12","v":74},{"t":"2015-09-16","v":89},{"t":"2015-09-22","v":94},{"t":"2015-09-25","v":86},{"t":"2015-09-28","v":96},{"t":"2015-10-02","v":82},{"t":"2015-10-07","v":72},{"t":"2015-10-11","v":74},{"t":"2015-10-15","v":82},{"t":"2015-10-19","v":79},{"t":"2015-10-24","v":80},{"t":"2015-10-26","v":68},{"t":"2015-10-31","v":80},{"t":"2015-11-06","v":75},{"t":"2015-11-10","v":78},{"t":"2015-11-15","v":83},{"t":"2015-11-19","v":67},{"t":"2015-11-23","v":74},{"t":"2015-11-28","v":66},{"t":"2015-12-02","v":56},{"t":"2015-12-06","v":69},{"t":"2015-12-11","v":59},{"t":"2015-12-15","v":73},{"t":"2015-12-20","v":60},{"t":"2015-12-22","v":52},{"t":"2015-12-27","v":63},{"t":"2015-12-31","v":59},{"t":"2016-01-04","v":67},{"t":"2016-01-07","v":57},{"t":"2016-01-10","v":66},{"t":"2016-01-13","v":50},{"t":"2016-01-17","v":62},{"t":"2016-01-22","v":61},{"t":"2016-01-25","v":53},{"t":"2016-01-28","v":62},{"t":"2016-01-30","v":138},{"t":"2016-02-02","v":118},{"t":"2016-02-06","v":125},{"t":"2016-02-08","v":111},{"t":"2016-02-13","v":126},{"t":"2016-02-15","v":116},{"t":"2016-02-19","v":111},{"t":"2016-02-22","v":91},{"t":"2016-02-26","v":105},{"t":"2016-03-02","v":148},{"t":"2016-03-05","v":123},{"t":"2016-03-09","v":147},{"t":"2016-03-12","v":127},{"t":"2016-03-16","v":154},{"t":"2016-03-18","v":116},{"t":"2016-03-22","v":151},{"t":"2016-03-25","v":121},{"t":"2016-03-29","v":155},{"t":"2016-04-03","v":125},{"t":"2016-04-05","v":140},{"t":"2016-04-10","v":117},{"t":"2016-04-14","v":99},{"t":"2016-04-19","v":98},{"t":"2016-04-23","v":86},{"t":"2016-04-27","v":90},{"t":"2016-05-02","v":93},{"t":"2016-05-06","v":95},{"t":"2016-05-10","v":91},{"t":"2016-05-13","v":109},{"t":"2016-05-17","v":125},{"t":"2016-05-21","v":113},{"t":"2016-05-23","v":116},{"t":"2016-05-26","v":111},{"t":"2016-05-30","v":126},{"t":"2016-06-03","v":133},{"t":"2016-06-06","v":116},{"t":"2016-06-08","v":99},{"t":"2016-06-15","v":95},{"t":"2016-06-21","v":97},{"t":"2016-06-28","v":97},{"t":"2016-07-02","v":101},{"t":"2016-07-06","v":87},{"t":"2016-07-13","v":96},{"t":"2016-07-17","v":93},{"t":"2016-07-20","v":105},{"t":"2016-07-26","v":110},{"t":"2016-07-30","v":111},{"t":"2016-08-05","v":116},{"t":"2016-08-09","v":110},{"t":"2016-08-13","v":107},{"t":"2016-08-20","v":98},{"t":"2016-08-26","v":100},{"t":"2016-08-30","v":114},{"t":"2016-09-02","v":100},{"t":"2016-09-06","v":145},{"t":"2016-09-10","v":118},{"t":"2016-09-14","v":145},{"t":"2016-09-17","v":131},{"t":"2016-09-21","v":150},{"t":"2016-09-25","v":111},{"t":"2016-09-28","v":137},{"t":"2016-10-01","v":109},{"t":"2016-10-07","v":158},{"t":"2016-10-10","v":137},{"t":"2016-10-14","v":159},{"t":"2016-10-17","v":131},{"t":"2016-10-23","v":111},{"t":"2016-10-27","v":126},{"t":"2016-10-31","v":128},{"t":"2016-11-04","v":139},{"t":"2016-11-08","v":118},{"t":"2016-11-11","v":131},{"t":"2016-11-17","v":154},{"t":"2016-11-21","v":128},{"t":"2016-11-26","v":128},{"t":"2016-12-01","v":160},{"t":"2016-12-06","v":147},{"t":"2016-12-12","v":164},{"t":"2016-12-16","v":153},{"t":"2016-12-21","v":147},{"t":"2016-12-25","v":148},{"t":"2016-12-31","v":131},{"t":"2017-01-04","v":139},{"t":"2017-01-09","v":139},{"t":"2017-01-14","v":150},{"t":"2017-01-17","v":147},{"t":"2017-01-22","v":162},{"t":"2017-01-26","v":133},{"t":"2017-01-29","v":102},{"t":"2017-01-31","v":120},{"t":"2017-02-05","v":133},{"t":"2017-02-09","v":86},{"t":"2017-02-14","v":89},{"t":"2017-02-18","v":79},{"t":"2017-02-22","v":93},{"t":"2017-02-26","v":79},{"t":"2017-03-03","v":96},{"t":"2017-03-07","v":87},{"t":"2017-03-12","v":87},{"t":"2017-03-18","v":123},{"t":"2017-03-23","v":69},{"t":"2017-03-29","v":90},{"t":"2017-04-01","v":69},{"t":"2017-04-06","v":84},{"t":"2017-04-12","v":86},{"t":"2017-04-17","v":64},{"t":"2017-04-23","v":63},{"t":"2017-04-29","v":67},{"t":"2017-05-04","v":69},{"t":"2017-05-08","v":63},{"t":"2017-05-12","v":66},{"t":"2017-05-17","v":69},{"t":"2017-05-21","v":62},{"t":"2017-05-26","v":60},{"t":"2017-06-01","v":63},{"t":"2017-06-05","v":62},{"t":"2017-06-09","v":73}
 ],
 "inset": [
{"h":-0.8,"v":0.35},{"h":1.2,"v":0.25},{"h":3.3,"v":0.38},{"h":4.7,"v":0.13},{"h":6.1,"v":0.74},{"h":7.4,"v":1.19},{"h":8.8,"v":0.98},{"h":9.8,"v":1.19},{"h":10.9,"v":0.8},{"h":13,"v":0.38},{"h":15.2,"v":0.07},{"h":16.6,"v":-0.02},{"h":18.7,"v":0.07},{"h":20,"v":0.71},{"h":21.4,"v":0.25},{"h":23.5,"v":0.41},{"h":25.6,"v":0.35},{"h":27.6,"v":0.44},{"h":29.7,"v":0.56},{"h":31.1,"v":0.89},{"h":32.5,"v":1.22},{"h":33.8,"v":1.25},{"h":35.2,"v":0.92},{"h":36.6,"v":0.38},{"h":38,"v":0.07},{"h":40,"v":0.04},{"h":42.8,"v":0.07},{"h":44.2,"v":0.25},{"h":44.9,"v":0.62},{"h":45.9,"v":0.25},{"h":48.4,"v":0.25},{"h":51.2,"v":0.31},{"h":53.3,"v":0.53},{"h":55.3,"v":0.62},{"h":56.7,"v":0.77},{"h":58.1,"v":1.29},{"h":59.2,"v":0.98},{"h":60.2,"v":0.74},{"h":61.6,"v":0.35},{"h":63.7,"v":0.13},{"h":66.5,"v":0.04},{"h":69.2,"v":0.01},{"h":71.3,"v":0.44},{"h":72.7,"v":0.47}
 ]
},
"vconcat": [
 {
  "width": 1085, "height": 192,
  "encoding": {"x": {"field": "t", "type": "temporal", "scale": {"type": "utc", "domain": [{"year": 2014, "month": 11, "date": 1, "utc": true}, {"year": 2017, "month": 6, "date": 9, "utc": true}], "nice": false},
    "axis": {"orient": "top", "tickCount": {"interval": "month", "step": 1}, "labelExpr": "utcmonth(datum.value) % 2 == 0 ? utcFormat(datum.value, '%-m') : ''", "labelOffset": 17, "labelOverlap": false, "tickSize": -5, "labelPadding": 14, "title": null}}},
  "layer": [
   {"data": {"name": "alarm"}, "mark": {"type": "rect", "color": "#fbf7a4"}, "encoding": {"x2": {"field": "t2"}}},
   {"data": {"name": "years"}, "mark": {"type": "rule", "color": "black", "strokeWidth": 1.5}, "encoding": {"y": {"datum": 2.107, "type": "quantitative", "scale": {"domain": [-0.15, 2.05], "nice": false, "zero": false}}, "y2": {"datum": 1.958}}},
   {"data": {"name": "ga1"}, "mark": {"type": "area", "color": "#169b3d", "opacity": 0.9}, "encoding": {"y": {"field": "lo", "type": "quantitative", "scale": {"domain": [-0.15, 2.05], "nice": false, "zero": false}}, "y2": {"field": "hi"}}},
   {"data": {"name": "ga2"}, "mark": {"type": "area", "color": "#169b3d", "opacity": 0.9}, "encoding": {"y": {"field": "lo", "type": "quantitative", "scale": {"domain": [-0.15, 2.05], "nice": false, "zero": false}}, "y2": {"field": "hi"}}},
   {"data": {"name": "g1"}, "mark": {"type": "line", "color": "#169b3d", "strokeWidth": 1.2}, "encoding": {"y": {"field": "v", "type": "quantitative", "scale": {"domain": [-0.15, 2.05], "nice": false, "zero": false}, "axis": {"values": [0.3, 0.7, 1.1, 1.5, 1.9], "labelExpr": "format(datum.value, '.1f') + '·10⁻⁷'", "title": "м/с²"}}}},
   {"data": {"name": "g2"}, "mark": {"type": "line", "color": "#169b3d", "strokeWidth": 1.2}, "encoding": {"y": {"field": "v", "type": "quantitative", "scale": {"domain": [-0.15, 2.05], "nice": false, "zero": false}}}},
   {"data": {"values": [{"t": "2015-04-08", "t2": "2015-04-13"}]}, "mark": {"type": "rect", "filled": false, "color": "black", "strokeWidth": 1.2}, "encoding": {"x2": {"field": "t2"}, "y": {"datum": -0.09, "type": "quantitative", "scale": {"domain": [-0.15, 2.05], "nice": false, "zero": false}}, "y2": {"datum": 1.466}}},
   {"data": {"values": [{"t": "2015-04-14", "t2": "2015-05-05"}]}, "mark": {"type": "rule", "color": "black", "strokeWidth": 1}, "encoding": {"x2": {"field": "t2"}, "y": {"datum": 0.07, "type": "quantitative", "scale": {"domain": [-0.15, 2.05], "nice": false, "zero": false}}, "y2": {"datum": -0.15}}},
   {"data": {"name": "ev"}, "mark": {"type": "rule", "color": "#e0301e", "strokeWidth": 2.5}, "encoding": {"y": {"datum": 1.59, "type": "quantitative", "scale": {"domain": [-0.15, 2.05], "nice": false, "zero": false}}, "y2": {"datum": -0.15}}},
   {"data": {"values": [{"t": "2015-07-31", "label": "2015 г."}, {"t": "2016-06-15", "label": "2016 г."}, {"t": "2017-03-30", "label": "2017 г."}]}, "mark": {"type": "text", "fontSize": 21, "baseline": "middle"}, "encoding": {"text": {"field": "label"}, "y": {"datum": 2.57, "type": "quantitative", "scale": {"domain": [-0.15, 2.05], "nice": false, "zero": false}}}},
   {"data": {"values": [{"t": "2015-11-10", "label": "Mw=7.2\nRe=107 км\nH=161 км\nS=39%"}]}, "mark": {"type": "text", "align": "left", "baseline": "middle", "fontSize": 15, "fontWeight": "bold", "lineBreak": "\n", "lineHeight": 18}, "encoding": {"text": {"field": "label"}, "y": {"datum": 1.652, "type": "quantitative", "scale": {"domain": [-0.15, 2.05], "nice": false, "zero": false}}}},
   {"data": {"values": [{"t": "2016-03-20", "label": "а) Амплитуды суточных вариаций ГАЭ Y 160 Гц,\n\u2002h=1012 м, скв. Г-1"}]}, "mark": {"type": "text", "align": "left", "baseline": "middle", "fontSize": 20, "lineBreak": "\n", "lineHeight": 24}, "encoding": {"text": {"field": "label"}, "y": {"datum": 1.56, "type": "quantitative", "scale": {"domain": [-0.15, 2.05], "nice": false, "zero": false}}}}
  ]
 },
 {
  "width": 1085, "height": 193,
  "resolve": {"scale": {"x": "independent", "y": "independent"}},
  "layer": [
   {
    "encoding": {"x": {"field": "t", "type": "temporal", "scale": {"type": "utc", "domain": [{"year": 2014, "month": 11, "date": 1, "utc": true}, {"year": 2017, "month": 6, "date": 9, "utc": true}], "nice": false}, "axis": null}},
    "layer": [
     {"data": {"name": "alarm"}, "mark": {"type": "rect", "color": "#fbf7a4"}, "encoding": {"x2": {"field": "t2"}}},
     {"data": {"name": "b"}, "mark": {"type": "line", "color": "#3a63b8", "strokeWidth": 1.5}, "encoding": {"y": {"field": "v", "type": "quantitative", "scale": {"domain": [77.6, 304.7], "nice": false, "zero": false}, "axis": {"values": [120, 160, 200, 240, 280], "title": "ρ,отн. ед."}}}},
     {"data": {"name": "ev"}, "mark": {"type": "rule", "color": "#e0301e", "strokeWidth": 2.5}},
     {"data": {"values": [{"t": "2015-05-05", "t2": "2015-05-16"}]}, "mark": {"type": "rule", "color": "black", "strokeWidth": 1}, "encoding": {"x2": {"field": "t2"}, "y": {"datum": 304.7, "type": "quantitative", "scale": {"domain": [77.6, 304.7], "nice": false, "zero": false}}, "y2": {"datum": 294.1}}},
     {"data": {"values": [{"t": "2015-05-16"}]}, "mark": {"type": "point", "shape": "M0,0L-2,-0.7L-2,0.7Z", "filled": true, "color": "black", "opacity": 1, "size": 100, "angle": 38}, "encoding": {"y": {"datum": 294.1, "type": "quantitative", "scale": {"domain": [77.6, 304.7], "nice": false, "zero": false}}}},
     {"data": {"values": [{"t": "2016-03-20", "label": "б) Удельное сопротивление, канал 560 Гц, скв. Г-1"}]}, "mark": {"type": "text", "align": "left", "baseline": "middle", "fontSize": 20}, "encoding": {"text": {"field": "label"}, "y": {"datum": 123.5, "type": "quantitative", "scale": {"domain": [77.6, 304.7], "nice": false, "zero": false}}}}
    ]
   },
   {
    "layer": [
     {"data": {"values": [{}]}, "mark": {"type": "rect", "fill": "white", "stroke": "black", "strokeWidth": 1.2}, "encoding": {"x": {"datum": -1.65, "type": "quantitative", "scale": {"domain": [-48.2, 400.7], "nice": false, "zero": false}, "axis": null}, "x2": {"datum": 73.7}, "y": {"datum": -0.236, "type": "quantitative", "scale": {"domain": [-1.745, 1.764], "nice": false, "zero": false}, "axis": null}, "y2": {"datum": 1.473}}},
     {"data": {"name": "inset"}, "mark": {"type": "line", "color": "#7aad7c", "strokeWidth": 1}, "encoding": {"x": {"field": "h", "type": "quantitative", "scale": {"domain": [-48.2, 400.7], "nice": false, "zero": false}, "axis": null}, "y": {"field": "v", "type": "quantitative", "scale": {"domain": [-1.745, 1.764], "nice": false, "zero": false}, "axis": null}}},
     {"data": {"values": [{"h": -3.7, "v": 1.4, "label": "1.4·10⁻⁷"}, {"h": -3.7, "v": 0.7, "label": "0.7·10⁻⁷"}, {"h": -7.9, "v": 0, "label": "0"}]}, "mark": {"type": "text", "align": "right", "baseline": "middle", "fontSize": 14}, "encoding": {"text": {"field": "label"}, "x": {"field": "h", "type": "quantitative", "scale": {"domain": [-48.2, 400.7], "nice": false, "zero": false}, "axis": null}, "y": {"field": "v", "type": "quantitative", "scale": {"domain": [-1.745, 1.764], "nice": false, "zero": false}, "axis": null}}},
     {"data": {"values": [{"h": 12, "label": "08.04"}, {"h": 36, "label": "09.04"}, {"h": 60, "label": "10.04"}]}, "mark": {"type": "text", "align": "center", "baseline": "middle", "fontSize": 14}, "encoding": {"text": {"field": "label"}, "x": {"field": "h", "type": "quantitative", "scale": {"domain": [-48.2, 400.7], "nice": false, "zero": false}, "axis": null}, "y": {"datum": 1.6, "type": "quantitative", "scale": {"domain": [-1.745, 1.764], "nice": false, "zero": false}, "axis": null}}}
    ]
   }
  ]
 },
 {
  "width": 1085, "height": 192,
  "encoding": {"x": {"field": "t", "type": "temporal", "scale": {"type": "utc", "domain": [{"year": 2014, "month": 11, "date": 1, "utc": true}, {"year": 2017, "month": 6, "date": 9, "utc": true}], "nice": false}, "axis": null}},
  "layer": [
   {"data": {"name": "alarm"}, "mark": {"type": "rect", "color": "#fbf7a4"}, "encoding": {"x2": {"field": "t2"}}},
   {"data": {"name": "c"}, "mark": {"type": "line", "color": "#8c1fa8", "strokeWidth": 1.5}, "encoding": {"y": {"field": "v", "type": "quantitative", "scale": {"domain": [0, 300], "nice": false, "zero": false}, "axis": {"values": [50, 100, 150, 200, 250], "labelExpr": "datum.value % 100 == 50 ? datum.label : ''", "title": "ρ,отн. ед."}}}},
   {"data": {"name": "ev"}, "mark": {"type": "rule", "color": "#e0301e", "strokeWidth": 2.5}},
   {"data": {"name": "alarm"}, "mark": {"type": "rule", "color": "black", "strokeWidth": 3}, "encoding": {"x2": {"field": "t2"}, "y": {"datum": 300, "type": "quantitative", "scale": {"domain": [0, 300], "nice": false, "zero": false}}}},
   {"data": {"values": [{"t": "2015-09-06", "dir": "L"}, {"t": "2016-03-02", "dir": "R"}]}, "mark": {"type": "point", "filled": true, "color": "black", "opacity": 1, "size": 169}, "encoding": {"shape": {"field": "dir", "type": "nominal", "scale": {"domain": ["L", "R"], "range": ["M0,0L2,-0.8L2,0.8Z", "M0,0L-2,-0.8L-2,0.8Z"]}, "legend": null}, "y": {"datum": 300, "type": "quantitative", "scale": {"domain": [0, 300], "nice": false, "zero": false}}}},
   {"data": {"values": [{"t": "2015-11-26", "label": "тревожное время"}]}, "mark": {"type": "text", "align": "center", "baseline": "middle", "fontSize": 17, "fontWeight": "bold"}, "encoding": {"text": {"field": "label"}, "y": {"datum": 275, "type": "quantitative", "scale": {"domain": [0, 300], "nice": false, "zero": false}}}},
   {"data": {"values": [{"t": "2016-03-20", "label": "в) Удельное сопротивление, канал 160 Гц, скв. Г-1"}]}, "mark": {"type": "text", "align": "left", "baseline": "middle", "fontSize": 20}, "encoding": {"text": {"field": "label"}, "y": {"datum": 47, "type": "quantitative", "scale": {"domain": [0, 300], "nice": false, "zero": false}}}}
  ]
 },
 {
  "width": 1085, "height": 191,
  "encoding": {"x": {"field": "t", "type": "temporal", "scale": {"type": "utc", "domain": [{"year": 2014, "month": 11, "date": 1, "utc": true}, {"year": 2017, "month": 6, "date": 9, "utc": true}], "nice": false},
    "axis": {"orient": "bottom", "tickCount": {"interval": "month", "step": 1}, "labels": false, "tickSize": -4, "title": null}}},
  "layer": [
   {"data": {"name": "alarm"}, "mark": {"type": "rect", "color": "#fbf7a4"}, "encoding": {"x2": {"field": "t2"}}},
   {"data": {"name": "years"}, "mark": {"type": "rule", "color": "black", "strokeWidth": 1.5}, "encoding": {"y": {"datum": 40, "type": "quantitative", "scale": {"domain": [40, 180.6], "nice": false, "zero": false}}, "y2": {"datum": 45.9}}},
   {"data": {"name": "d"}, "mark": {"type": "line", "color": "#7b1436", "strokeWidth": 1.8}, "encoding": {"y": {"field": "v", "type": "quantitative", "scale": {"domain": [40, 180.6], "nice": false, "zero": false}, "axis": {"values": [40, 60, 80, 100, 120, 140, 160], "labelExpr": "datum.value % 40 == 0 ? datum.label : ''", "title": "ρ,отн. ед."}}}},
   {"data": {"name": "ev"}, "mark": {"type": "rule", "color": "#e0301e", "strokeWidth": 2.5}, "encoding": {"y": {"datum": 180.6, "type": "quantitative", "scale": {"domain": [40, 180.6], "nice": false, "zero": false}}, "y2": {"datum": 162.9}}},
   {"data": {"name": "ev"}, "mark": {"type": "rule", "color": "#e0301e", "strokeWidth": 2, "strokeDash": [7, 4]}, "encoding": {"y": {"datum": 160.5, "type": "quantitative", "scale": {"domain": [40, 180.6], "nice": false, "zero": false}}, "y2": {"datum": 40}}},
   {"data": {"name": "ev"}, "mark": {"type": "point", "shape": "M-1,-1.73L0,0L1,-1.73", "filled": false, "color": "#e0301e", "strokeWidth": 2.2, "opacity": 1, "size": 225}, "encoding": {"y": {"datum": 162.9, "type": "quantitative", "scale": {"domain": [40, 180.6], "nice": false, "zero": false}}}},
   {"data": {"values": [{"t": "2016-03-20", "label": "г) Удельное сопротивление, канал 30 Гц, скв. Г-1"}]}, "mark": {"type": "text", "align": "left", "baseline": "middle", "fontSize": 20}, "encoding": {"text": {"field": "label"}, "y": {"datum": 55.8, "type": "quantitative", "scale": {"domain": [40, 180.6], "nice": false, "zero": false}}}}
  ]
 }
]
}
